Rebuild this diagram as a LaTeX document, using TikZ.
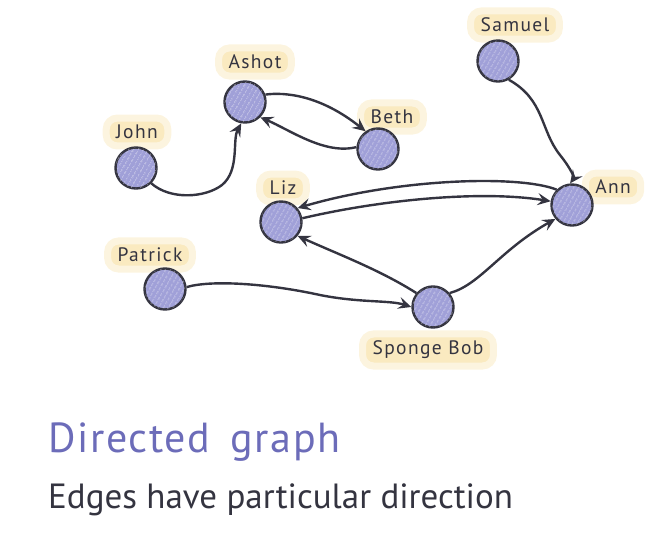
\documentclass[tikz,border=0pt]{standalone}
\usepackage{fontspec}
\setmainfont{PT Sans}
\newfontfamily\lblfont[LetterSpace=7]{PT Sans}
\newfontfamily\titlefont[LetterSpace=4]{PT Sans}
\usetikzlibrary{arrows.meta,patterns.meta}
\definecolor{nodefill}{RGB}{160,160,216}
\definecolor{ink}{RGB}{52,52,64}
\definecolor{glow}{RGB}{250,234,192}
\definecolor{titlecol}{RGB}{108,108,185}
\tikzset{
  person/.style={circle, minimum size=41pt, inner sep=0pt, fill=nodefill, draw=ink, line width=2.4pt,
    postaction={pattern={Lines[angle=60,distance=4pt,line width=0.5pt]}, pattern color=white!80!nodefill}},
  name label/.style={font=\lblfont\fontsize{19.5}{22}\selectfont, text=ink, fill=glow, rounded corners=11pt,
    inner xsep=10pt, inner ysep=7pt, draw=glow!50, line width=7pt},
  edge/.style={draw=ink, line width=2.4pt, -{Stealth[length=13pt,width=12pt,inset=5pt]}},
}
\begin{document}
\begin{tikzpicture}[x=1pt,y=-1pt]
\useasboundingbox (0,0) rectangle (647,537);
% labels
\node[name label] (lashot) at (255,62) {Ashot};
\node[name label] (lbeth) at (392,117) {Beth};
\node[name label] (ljohn) at (137,132) {John};
\node[name label] (lsamuel) at (515,25) {Samuel};
\node[name label] (lann) at (613,187) {Ann};
\node[name label] (lliz) at (283,188) {Liz};
\node[name label] (lpatrick) at (150,255) {Patrick};
\node[name label] (lbob) at (428,350) {Sponge Bob};
% people
\node[person] (ashot) at (245,102) {};
\node[person] (beth) at (378,149) {};
\node[person] (john) at (136,168) {};
\node[person] (samuel) at (498,61) {};
\node[person] (ann) at (572,205) {};
\node[person] (liz) at (281,222) {};
\node[person] (patrick) at (165,289) {};
\node[person] (bob) at (433,307) {};
% edges
\draw[edge] (john.-45) .. controls (170,200) and (205,198) .. (222,185) .. controls (240,170) and (232,140) .. (ashot.-100);
\draw[edge] (ashot.20) .. controls (285,92) and (320,95) .. (beth.125);
\draw[edge] (beth.175) .. controls (325,155) and (290,130) .. (ashot.-45);
\draw[edge] (samuel.-60) .. controls (545,100) and (540,130) .. (560,155) .. controls (572,170) and (574,178) .. (ann.95);
\draw[edge] (ann.135) .. controls (520,175) and (400,178) .. (liz.40);
\draw[edge] (liz.10) .. controls (380,200) and (480,190) .. (ann.170);
\draw[edge] (bob.140) .. controls (380,270) and (340,255) .. (liz.-40);
\draw[edge] (patrick.5) .. controls (210,280) and (265,283) .. (320,295) .. controls (360,303) and (390,300) .. (bob.180);
\draw[edge] (bob.40) .. controls (480,285) and (500,250) .. (ann.-140);
% titles
\node[anchor=base west, inner sep=0pt, text=titlecol, font=\titlefont\fontsize{42}{46}\selectfont] (title) at (48,452)
  {Directed\hspace{20pt}graph};
\node[anchor=base west, inner sep=0pt, text=ink, font=\fontsize{35}{40}\selectfont] (subtitle) at (48,508)
  {Edges have particular direction};
\end{tikzpicture}
\end{document}
